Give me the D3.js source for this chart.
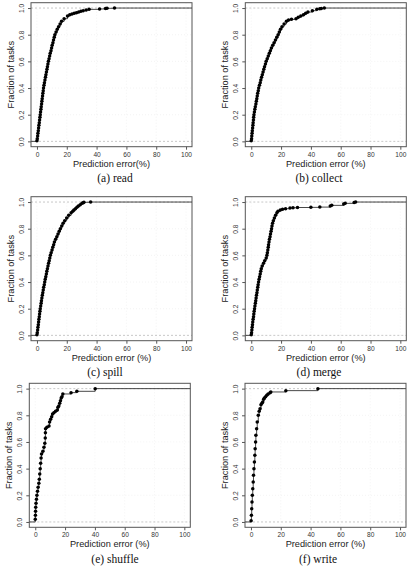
<!DOCTYPE html>
<html>
<head>
<meta charset="utf-8">
<script src="https://cdn.jsdelivr.net/npm/d3@7"></script>
<style>
  html, body { margin: 0; padding: 0; background: #fff; }
  svg { display: block; }
  .tick text { font-family: "Liberation Sans", Arial, Helvetica, sans-serif; font-size: 6.6px; fill: #333; }
  .ttl { font-family: "Liberation Sans", Arial, Helvetica, sans-serif; font-size: 9.2px; fill: #222; }
  .cap { font-family: "Liberation Serif", "Times New Roman", serif; font-size: 11.5px; fill: #111; }
</style>
</head>
<body>
<svg id="chart" width="412" height="570"></svg>
<script>
// ---------- data ----------
const xTicks = [0, 20, 40, 60, 80, 100];
const yTicks = [0.0, 0.2, 0.4, 0.6, 0.8, 1.0];

// (a) read: prediction error (%) and cumulative fraction of tasks
const readErr  = [0,0.2,0.45,0.65,0.9,1.1,1.3,1.55,1.75,2.0,2.2,2.4,2.65,2.85,3.1,3.3,3.5,3.75,3.95,4.2,4.4,4.7,5.0,5.35,5.7,6.0,6.35,6.7,7.0,7.35,7.7,8.1,8.5,8.9,9.4,9.8,10.2,10.7,11.1,11.6,12.0,12.8,13.6,14.5,15.5,16.5,18.2,20.5,22,23.5,25,26.5,28,29.5,31,33,35,42,46,47,52];
const readFrac = [0.005,0.02,0.04,0.06,0.08,0.10,0.12,0.14,0.16,0.18,0.20,0.22,0.24,0.26,0.28,0.30,0.32,0.34,0.36,0.38,0.40,0.42,0.44,0.46,0.48,0.50,0.52,0.54,0.56,0.58,0.60,0.62,0.64,0.66,0.68,0.70,0.72,0.74,0.76,0.78,0.80,0.82,0.84,0.86,0.88,0.90,0.92,0.94,0.95,0.955,0.96,0.965,0.97,0.975,0.98,0.985,0.99,0.993,0.996,0.998,1.0];

// (b) collect
const collectErr  = [0,0.2,0.35,0.55,0.7,0.9,1.1,1.25,1.45,1.6,1.8,2.1,2.4,2.7,3.1,3.4,3.7,4.0,4.3,4.7,5.0,5.5,6.0,6.4,6.9,7.4,7.9,8.4,8.9,9.5,10.0,10.7,11.4,12.1,12.8,13.5,14.4,15.3,16.2,17.1,18.0,18.8,19.6,20.6,22.0,23.6,25.0,27.0,30.0,31.5,33.2,35.0,36.5,38.0,41.0,44.0,46,47,49];
const collectFrac = [0.005,0.02,0.04,0.06,0.08,0.10,0.12,0.14,0.16,0.18,0.20,0.22,0.24,0.26,0.28,0.30,0.32,0.34,0.36,0.38,0.40,0.42,0.44,0.46,0.48,0.50,0.52,0.54,0.56,0.58,0.60,0.62,0.64,0.66,0.68,0.70,0.72,0.74,0.76,0.78,0.80,0.82,0.84,0.86,0.88,0.90,0.91,0.915,0.92,0.93,0.94,0.95,0.96,0.97,0.98,0.99,0.995,0.997,1.0];

// (c) spill
const spillErr  = [0,0.2,0.45,0.65,0.9,1.1,1.3,1.55,1.75,2.0,2.2,2.5,2.8,3.0,3.3,3.6,3.9,4.2,4.5,4.9,5.2,5.55,5.9,6.3,6.6,7.0,7.4,7.8,8.2,8.6,9.0,9.5,10.1,10.6,11.2,11.7,12.5,13.3,14.1,14.9,15.7,16.6,17.5,18.6,19.9,21.3,22.9,24.0,24.8,25.8,26.8,27.8,29.0,30.2,31.0,31.5,36.0];
const spillFrac = [0.005,0.02,0.04,0.06,0.08,0.10,0.12,0.14,0.16,0.18,0.20,0.22,0.24,0.26,0.28,0.30,0.32,0.34,0.36,0.38,0.40,0.42,0.44,0.46,0.48,0.50,0.52,0.54,0.56,0.58,0.60,0.62,0.64,0.66,0.68,0.70,0.72,0.74,0.76,0.78,0.80,0.82,0.84,0.86,0.88,0.90,0.92,0.93,0.94,0.95,0.96,0.97,0.98,0.99,0.995,0.998,1.0];

// (d) merge
const mergeErr  = [0,0.2,0.4,0.6,0.8,1.0,1.25,1.5,1.7,1.95,2.2,2.45,2.75,3.0,3.25,3.5,3.8,4.05,4.35,4.6,4.9,5.25,5.6,6.0,6.35,6.7,7.3,8.2,9.0,10.0,10.5,10.8,11.1,11.4,11.6,11.9,12.2,12.6,12.9,13.3,13.6,13.9,14.3,14.8,15.5,16.3,17.2,17.9,19.5,21,23,26,28,31,40,46,53,54,62,63,69,70];
const mergeFrac = [0.005,0.02,0.04,0.06,0.08,0.10,0.12,0.14,0.16,0.18,0.20,0.22,0.24,0.26,0.28,0.30,0.32,0.34,0.36,0.38,0.40,0.42,0.44,0.46,0.48,0.50,0.52,0.54,0.56,0.58,0.60,0.62,0.64,0.66,0.68,0.70,0.72,0.74,0.76,0.78,0.80,0.82,0.84,0.86,0.88,0.90,0.92,0.93,0.94,0.945,0.95,0.955,0.957,0.959,0.96,0.962,0.97,0.975,0.985,0.99,0.996,1.0];

// (e) shuffle
const shuffleErr  = [0.0,0.1,0.2,0.3,0.5,0.8,1.1,1.5,1.9,2.4,2.7,3.0,3.3,3.6,3.9,4.2,5.1,5.8,6.4,6.7,6.8,6.9,7.8,9.2,9.6,10.3,11.0,11.6,12.5,13.6,14.8,15.2,15.8,16.4,16.9,17.4,17.9,18.5,24.0,27.9,40.2];
const shuffleFrac = [0.02,0.05,0.08,0.11,0.14,0.17,0.20,0.23,0.26,0.29,0.32,0.36,0.40,0.44,0.48,0.51,0.53,0.56,0.59,0.63,0.67,0.70,0.71,0.72,0.75,0.77,0.79,0.81,0.82,0.83,0.84,0.86,0.87,0.89,0.91,0.93,0.94,0.96,0.97,0.98,1.0];

// (f) write
const writeErr  = [0.1,0.3,0.5,0.7,0.9,1.2,1.5,1.7,2.0,2.3,2.6,2.8,3.1,3.3,3.8,4.2,4.9,5.5,6.1,6.7,7.3,7.9,8.5,9.0,9.8,10.6,11.5,12.8,13.3,23.4,44.9];
const writeFrac = [0.01,0.05,0.10,0.15,0.20,0.25,0.30,0.35,0.40,0.45,0.50,0.55,0.60,0.65,0.70,0.75,0.80,0.83,0.85,0.88,0.89,0.90,0.92,0.93,0.94,0.95,0.96,0.97,0.975,0.985,1.0];

const captions = ["(a) read", "(b) collect", "(c) spill", "(d) merge", "(e) shuffle", "(f) write"];
const xTitles  = ["Prediction error(%)", "Prediction error (%)", "Prediction error (%)", "Prediction error (%)", "Prediction error (%)", "Prediction error (%)"];
const yTitle   = "Fraction of tasks";

// ---------- layout ----------
const boxW = 161, boxH = 144;
const layout = [
  {left: 31,    top: 2.7,   capX: 115},
  {left: 245.3, top: 2.7,   capX: 319},
  {left: 31,    top: 196.7, capX: 105},
  {left: 245.3, top: 196.7, capX: 319},
  {left: 29.3,  top: 383.3, capX: 115},
  {left: 245,   top: 383.3, capX: 318}
];
const series = [
  [readErr, readFrac], [collectErr, collectFrac], [spillErr, spillFrac],
  [mergeErr, mergeFrac], [shuffleErr, shuffleFrac], [writeErr, writeFrac]
];

const svg = d3.select("#chart");

series.forEach(([errs, fracs], i) => {
  const L = layout[i];
  const g = svg.append("g").attr("transform", `translate(${L.left},${L.top})`);
  const x = d3.scaleLinear().domain([-4, 104]).range([0, boxW]);
  const y = d3.scaleLinear().domain([-0.04, 1.04]).range([boxH, 0]);

  // faint grid
  g.append("g").selectAll("line").data(xTicks).join("line")
    .attr("x1", d => x(d)).attr("x2", d => x(d)).attr("y1", 0).attr("y2", boxH)
    .attr("stroke", "#ededed").attr("stroke-width", 0.6).attr("stroke-dasharray", "1,2");
  g.append("g").selectAll("line").data(yTicks.slice(1, -1)).join("line")
    .attr("x1", 0).attr("x2", boxW).attr("y1", d => y(d)).attr("y2", d => y(d))
    .attr("stroke", "#ededed").attr("stroke-width", 0.6).attr("stroke-dasharray", "1,2");

  // dashed reference lines at 0 and 1
  g.append("g").selectAll("line").data([0, 1]).join("line")
    .attr("x1", 0).attr("x2", boxW).attr("y1", d => y(d)).attr("y2", d => y(d))
    .attr("stroke", "#b0b0b0").attr("stroke-width", 0.7).attr("stroke-dasharray", "2,2");

  // ecdf step line
  const pts = errs.map((e, k) => [e, fracs[k]]);
  const full = [[-4, 0]].concat(pts).concat([[104, 1]]);
  g.append("path")
    .datum(full)
    .attr("fill", "none").attr("stroke", "#333").attr("stroke-width", 0.9)
    .attr("d", d3.line().x(d => x(d[0])).y(d => y(d[1])).curve(d3.curveStepAfter));

  // points
  g.append("g").selectAll("circle").data(pts).join("circle")
    .attr("cx", d => x(d[0])).attr("cy", d => y(d[1])).attr("r", 1.75).attr("fill", "#000");

  // box
  g.append("rect").attr("x", 0).attr("y", 0).attr("width", boxW).attr("height", boxH)
    .attr("fill", "none").attr("stroke", "#555").attr("stroke-width", 1);

  // axes
  const ax = g.append("g").attr("transform", `translate(0,${boxH})`)
    .call(d3.axisBottom(x).tickValues(xTicks).tickSize(3).tickFormat(d3.format("d")));
  ax.select(".domain").remove();
  ax.selectAll(".tick line").attr("stroke", "#555");
  ax.selectAll(".tick text").attr("y", 10).attr("dy", null);

  const ay = g.append("g")
    .call(d3.axisLeft(y).tickValues(yTicks).tickSize(3).tickFormat(d3.format(".1f")));
  ay.select(".domain").remove();
  ay.selectAll(".tick line").attr("stroke", "#555");
  ay.selectAll(".tick text")
    .attr("x", null).attr("dy", null)
    .attr("text-anchor", "middle")
    .attr("transform", "translate(-7,0) rotate(-90)");

  // titles
  g.append("text").attr("class", "ttl")
    .attr("x", boxW / 2).attr("y", boxH + 20).attr("text-anchor", "middle")
    .text(xTitles[i]);
  g.append("text").attr("class", "ttl")
    .attr("transform", `translate(-17.5,${boxH / 2}) rotate(-90)`)
    .attr("text-anchor", "middle")
    .text(yTitle);

  // caption
  svg.append("text").attr("class", "cap")
    .attr("x", L.capX).attr("y", L.top + boxH + 35.5).attr("text-anchor", "middle")
    .text(captions[i]);
});
</script>
</body>
</html>
